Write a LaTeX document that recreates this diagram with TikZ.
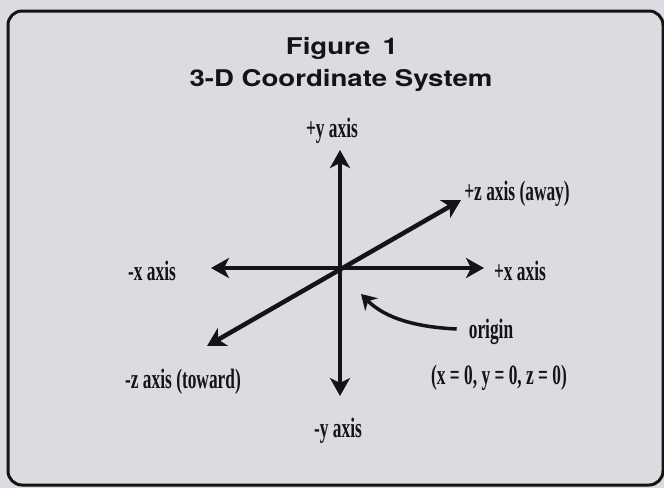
\documentclass[tikz,border=0pt]{standalone}
\usepackage{fontspec}
\setmainfont{Liberation Serif}
\newfontfamily\ttlfont{TeX Gyre Heros}
\usepackage{xcolor}
\usetikzlibrary{arrows.meta}

\definecolor{paper}{HTML}{DCDBE2}
\definecolor{ink}{HTML}{141414}

\tikzset{
  axis/.style={draw=ink, line width=4.5pt, {Stealth[length=18pt, width=20pt, inset=5pt]}-{Stealth[length=18pt, width=20pt, inset=5pt]}},
  ptr/.style={draw=ink, line width=3.5pt, -{Stealth[length=15pt, width=18pt, inset=5pt]}},
  lbl/.style={inner sep=0pt, text=ink, font=\bfseries\fontsize{28}{30}\selectfont, xscale=0.62},
  ttl/.style={inner sep=0pt, text=ink, font=\ttlfont\bfseries\fontsize{23}{26}\selectfont, xscale=1.2}
}

\begin{document}
\begin{tikzpicture}[x=1pt, y=-1pt]
  % page and frame
  \fill[paper] (0,0) rectangle (664,488);
  \useasboundingbox (0,0) rectangle (664,488);
  \draw[ink, line width=3pt, rounded corners=14pt] (8,11) rectangle (663,485);

  % title
  \node[ttl] (fig) at (342,48) {Figure\, 1};
  \node[ttl] (sys) at (341,80) {3-D Coordinate System};

  % axis ends
  \coordinate (o) at (340,268);
  \coordinate (ytop) at (340,150);
  \coordinate (ybot) at (340,396);
  \coordinate (xl) at (211,268);
  \coordinate (xr) at (484,268);
  \coordinate (zf) at (207,346);
  \coordinate (zb) at (461,200);

  \draw[axis] (ybot) -- (ytop);
  \draw[axis] (xl) -- (xr);
  \draw[axis] (zf) -- (zb);

  % labels
  \node[lbl] (py) at (332,131) {+y axis};
  \node[lbl] (my) at (338,431) {-y axis};
  \node[lbl] (mx) at (152,271) {-x axis};
  \node[lbl] (px) at (520,271) {+x axis};
  \node[lbl] (pz) at (517,194) {+z axis (away)};
  \node[lbl] (mz) at (183,382) {-z axis (toward)};
  \node[lbl] (org) at (491,332) {origin};
  \node[lbl] (xyz) at (499,378) {(x = 0, y = 0, z = 0)};

  % pointer to the origin
  \coordinate (otip) at (361,294);
  \draw[ptr] ([xshift=-12pt, yshift=3pt]org.west) .. controls (415,327) and (385,318) .. (otip);
\end{tikzpicture}
\end{document}
